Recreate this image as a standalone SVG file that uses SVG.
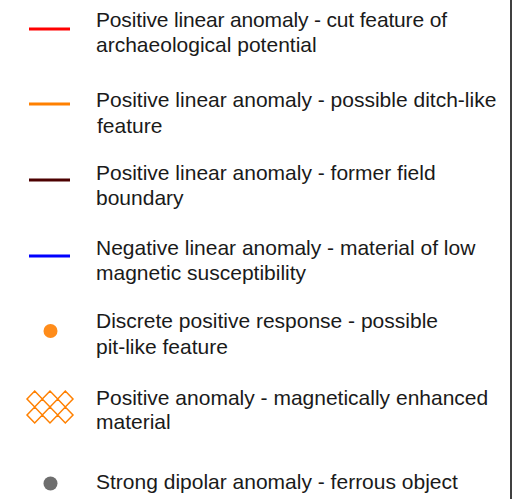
<svg xmlns="http://www.w3.org/2000/svg" width="532" height="499" viewBox="0 0 532 499">
<style>
text{font-family:"Liberation Sans",Arial,sans-serif;font-size:21px;fill:#1a1a1a}
.ln{stroke-width:3;fill:none}
</style>
<rect width="532" height="499" fill="#fff"/>
<line x1="511" y1="0" x2="511" y2="499" stroke="#000" stroke-width="1.5"/>
<g id="red">
<line class="ln" x1="29" y1="29" x2="70" y2="29" stroke="#ff0000"/>
<text x="96" y="27" textLength="351">Positive linear anomaly - cut feature of</text>
<text x="96" y="52">archaeological potential</text>
</g>
<g id="orange">
<line class="ln" x1="29" y1="104" x2="70" y2="104" stroke="#ff8000"/>
<text x="96" y="107">Positive linear anomaly - possible ditch-like</text>
<text x="97" y="133">feature</text>
</g>
<g id="brown">
<line class="ln" x1="29" y1="180" x2="70" y2="180" stroke="#4d0000"/>
<text x="96" y="180">Positive linear anomaly - former field</text>
<text x="96" y="205">boundary</text>
</g>
<g id="blue">
<line class="ln" x1="29" y1="256" x2="70" y2="256" stroke="#0000ff"/>
<text x="96" y="255">Negative linear anomaly - material of low</text>
<text x="96" y="280">magnetic susceptibility</text>
</g>
<g id="pit">
<circle cx="50.5" cy="331" r="7" fill="#ff8c1a"/>
<text x="96" y="328">Discrete positive response - possible</text>
<text x="96" y="354">pit-like feature</text>
</g>
<g id="enhanced">
<path d="M27,399 L34.7,391 L42.3,399 L50,391 L57.7,399 L65.3,391 L73,399 L65.3,407 L57.7,399 L50,407 L42.3,399 L34.7,407 Z M27,415 L34.7,407 L42.3,415 L50,407 L57.7,415 L65.3,407 L73,415 L65.3,423 L57.7,415 L50,423 L42.3,415 L34.7,423 Z" fill="none" stroke="#ff8000" stroke-width="1.5"/>
<text x="96" y="405">Positive anomaly - magnetically enhanced</text>
<text x="96" y="429">material</text>
</g>
<g id="ferrous">
<circle cx="50.5" cy="483.5" r="7" fill="#6e6e6e"/>
<text x="96" y="489">Strong dipolar anomaly - ferrous object</text>
</g>
<g id="connectors"/>
</svg>
